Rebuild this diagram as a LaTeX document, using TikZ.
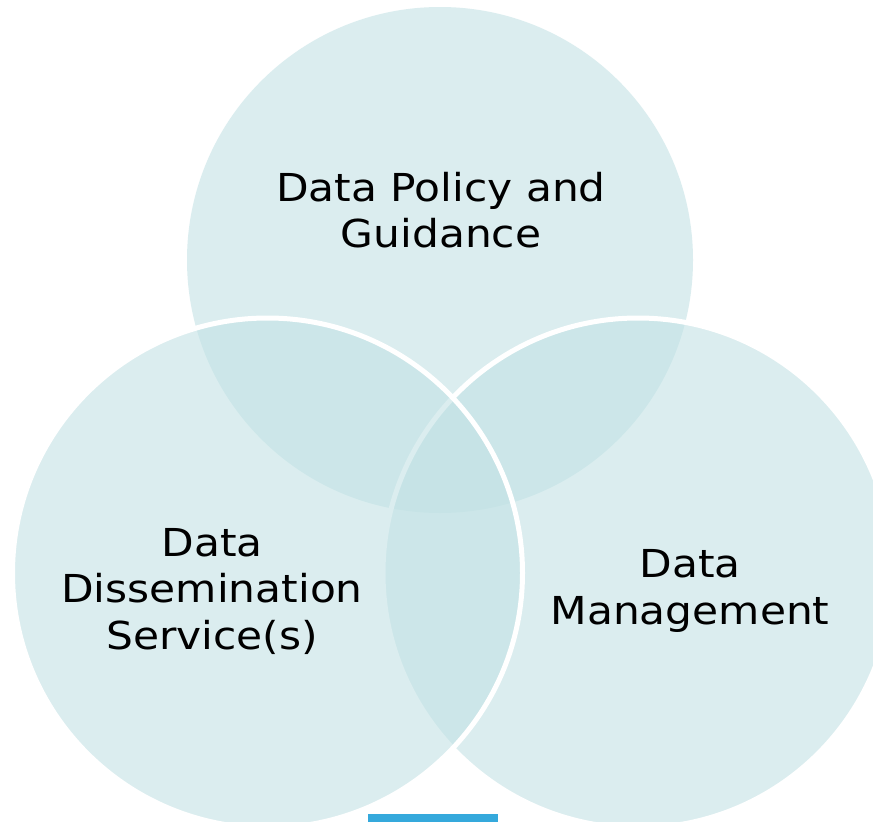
\documentclass[tikz,border=0pt]{standalone}
\usepackage{fontspec}
\setmainfont[FakeStretch=1.1]{DejaVu Sans}
\definecolor{vennfill}{RGB}{195,226,229}
\definecolor{barblue}{RGB}{53,169,220}
\begin{document}
\begin{tikzpicture}[x=1pt,y=-1pt,
  venn/.style={circle, minimum size=#1, inner sep=0pt, outer sep=0pt, fill=vennfill, fill opacity=0.6},
  vennline/.style={draw=white, line width=5pt, draw opacity=1},
  label/.style={align=center, font=\fontsize{38.5}{46.5}\selectfont, text=black, inner sep=0pt}]
\useasboundingbox (0,0) rectangle (873,822);
\fill[white] (0,0) rectangle (873,822);
\clip (0,0) rectangle (873,822);
\node[venn=506pt] (top) at (440,260) {};
\node[venn=510pt, vennline] (right) at (638,573) {};
\node[venn=510pt, vennline] (left) at (267.5,573) {};
\node[label] (ttop) at (441,210) {Data Policy and\\Guidance};
\node[label] (tleft) at (212,591) {Data\\Dissemination\\Service(s)};
\node[label] (tright) at (690,591) {Data\\Management};
\node[fill=barblue, minimum width=130pt, minimum height=8pt, inner sep=0pt, anchor=north west] (bar) at (368,814) {};
\end{tikzpicture}
\end{document}
